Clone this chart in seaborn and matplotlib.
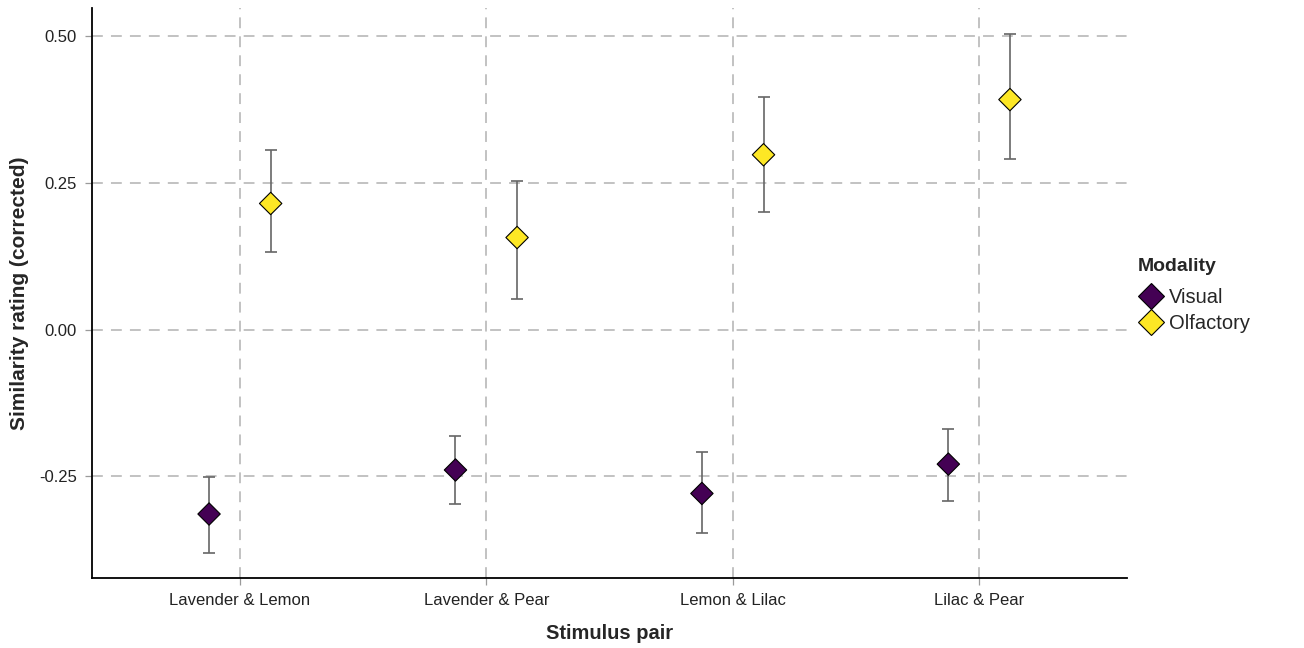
import numpy as np
import pandas as pd
import matplotlib
matplotlib.use("Agg")
import matplotlib.pyplot as plt
import seaborn as sns

# Stimulus pairs and per-modality summary statistics
pairs = ["Lavender & Lemon", "Lavender & Pear", "Lemon & Lilac", "Lilac & Pear"]
modalities = ["Visual", "Olfactory"]

visual_mean = [-0.314, -0.239, -0.279, -0.229]
visual_lower = [-0.381, -0.297, -0.346, -0.292]
visual_upper = [-0.251, -0.181, -0.209, -0.170]

olfactory_mean = [0.215, 0.157, 0.298, 0.392]
olfactory_lower = [0.132, 0.053, 0.200, 0.291]
olfactory_upper = [0.306, 0.254, 0.397, 0.504]

y_ticks = [-0.25, 0.00, 0.25, 0.50]
y_tick_labels = ["-0.25", "0.00", "0.25", "0.50"]

palette = {"Visual": "#440154", "Olfactory": "#FDE725"}
dodge = 0.25

rows = []
for m, means, lows, highs in [
    ("Visual", visual_mean, visual_lower, visual_upper),
    ("Olfactory", olfactory_mean, olfactory_lower, olfactory_upper),
]:
    for i, p in enumerate(pairs):
        rows.append(dict(pair=p, Modality=m, mean=means[i], lower=lows[i], upper=highs[i]))
df = pd.DataFrame(rows)
offsets = {"Visual": -dodge / 2, "Olfactory": dodge / 2}
df["pos"] = df["pair"].map({p: i for i, p in enumerate(pairs)}) + df["Modality"].map(offsets)

sns.set_theme(style="white")
plt.rcParams["font.family"] = ["Liberation Sans", "DejaVu Sans"]

fig = plt.figure(figsize=(13.04, 6.48), dpi=100)
ax = fig.add_axes([92 / 1304, 1 - 578 / 648, (1127 - 92) / 1304, (578 - 8) / 648])

# error bars first, so the markers sit on top
for m in modalities:
    d = df[df["Modality"] == m]
    ax.errorbar(
        d["pos"], d["mean"],
        yerr=[d["mean"] - d["lower"], d["upper"] - d["mean"]],
        fmt="none", ecolor="#666666", elinewidth=1.2, capsize=4.5, capthick=1.2, zorder=3,
    )

sns.scatterplot(
    data=df, x="pos", y="mean", hue="Modality", hue_order=modalities,
    palette=palette, marker="D", s=130, edgecolor="black", linewidth=0.8,
    ax=ax, zorder=4, legend=False,
)

ax.set_xlim(-0.6, 3.6)
ax.set_ylim(-0.423, 0.548)
ax.set_xticks(range(len(pairs)))
ax.set_xticklabels(pairs)
ax.set_yticks(y_ticks)
ax.set_yticklabels(y_tick_labels)

grid_kw = dict(color="#bdbdbd", linewidth=1.3, linestyle=(0, (6, 4.5)), zorder=1)
for x in range(len(pairs)):
    ax.axvline(x, **grid_kw)
for y in y_ticks:
    ax.axhline(y, **grid_kw)

for side in ["top", "right"]:
    ax.spines[side].set_visible(False)
for side in ["left", "bottom"]:
    ax.spines[side].set_color("black")
    ax.spines[side].set_linewidth(1.3)

ax.tick_params(axis="both", direction="out", length=5, width=0.9, color="#9a9a9a",
               labelsize=12, labelcolor="#222222", pad=6, left=True, bottom=True)

ax.set_xlabel("Stimulus pair", fontsize=14.5, fontweight="bold", labelpad=11)
ax.set_ylabel("Similarity rating (corrected)", fontsize=15, fontweight="bold", labelpad=7)

handles = [
    plt.Line2D([], [], marker="D", linestyle="none", markersize=13,
               markerfacecolor=palette[m], markeredgecolor="black", markeredgewidth=0.8)
    for m in modalities
]
leg = fig.legend(
    handles, modalities, title="Modality", loc="upper left",
    bbox_to_anchor=(1120 / 1304, 1 - 240 / 648), frameon=False,
    fontsize=14.5, title_fontproperties={"weight": "bold", "size": 14},
    handletextpad=0.25, handlelength=1.3, labelspacing=0.35, alignment="left",
)
# a little more room between the legend title and its entries
leg._legend_box.sep = 9.5

fig.savefig("out.png", dpi=100, facecolor="white")
